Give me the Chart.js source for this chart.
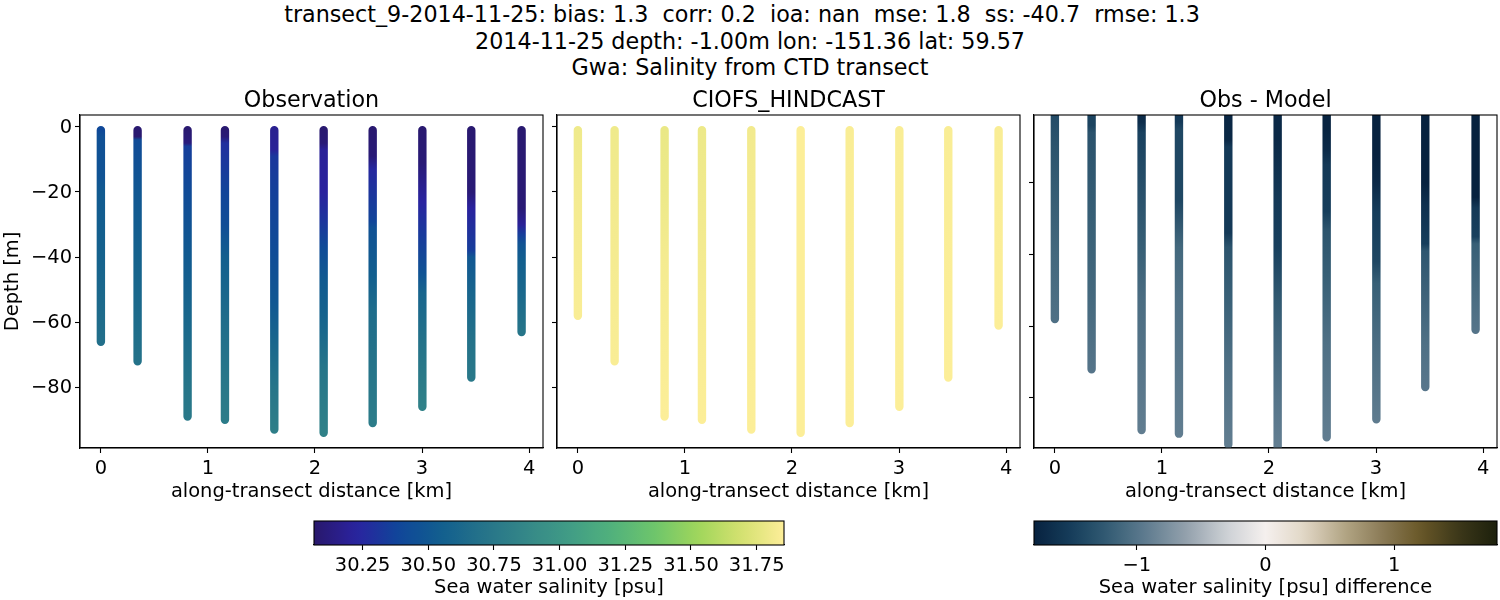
<!DOCTYPE html>
<html>
<head>
<meta charset="utf-8">
<title>transect_9-2014-11-25</title>
<script src="https://cdn.jsdelivr.net/npm/chart.js@4"></script>
<style>
  html, body { margin: 0; padding: 0; background: #fff; overflow: hidden; }
  body { width: 1500px; height: 600px; position: relative; font-family: "DejaVu Sans", sans-serif; }
  canvas { position: absolute; }
  .suptitle { position: absolute; width: 1500px; left: 0; height: 26px; line-height: 26px; text-align: center;
              font-size: 22.24px; color: #000; white-space: pre; }
</style>
</head>
<body>
<div class="suptitle" style="top:1px;padding-right:16px;width:1484px">transect_9-2014-11-25: bias: 1.3  corr: 0.2  ioa: nan  mse: 1.8  ss: -40.7  rmse: 1.3</div>
<div class="suptitle" style="top:28px">2014-11-25 depth: -1.00m lon: -151.36 lat: 59.57</div>
<div class="suptitle" style="top:54px">Gwa: Salinity from CTD transect</div>

<canvas id="obs" width="550" height="423" style="left:0;top:87px"></canvas>
<canvas id="model" width="477" height="423" style="left:550px;top:87px"></canvas>
<canvas id="diff" width="473" height="423" style="left:1027px;top:87px"></canvas>
<canvas id="cbarSalinity" width="520" height="90" style="left:290px;top:510px"></canvas>
<canvas id="cbarDiff" width="490" height="90" style="left:1010px;top:510px"></canvas>

<script>
// values: distance of each cast, then depth / value pairs per cast
const stationKm = [0, 0.343, 0.81, 1.159, 1.62, 2.081, 2.539, 3.003, 3.46, 3.93];
const xTicks = [0, 1, 2, 3, 4];
const depthTicks = [0, -20, -40, -60, -80];
const salinityTicks = [30.25, 30.5, 30.75, 31, 31.25, 31.5, 31.75];
const diffTicks = [-1, 0, 1];

const obsDepths = [
  [-1, -3, -15, -20, -40, -66],
  [-1, -3, -4, -20, -40, -60, -72],
  [-1, -5, -6, -20, -40, -60, -80, -89],
  [-1, -3, -5, -20, -30, -40, -60, -80, -90],
  [-1, -7, -9, -20, -37, -54, -65, -80, -93],
  [-1, -5, -7, -20, -28, -37, -47, -57, -63, -74, -94],
  [-1, -9, -13, -29, -31, -46, -56, -70, -91],
  [-1, -11, -23, -33, -45, -51, -66, -86],
  [-1, -20, -25, -38, -40, -51, -66, -77],
  [-1, -25, -30, -33, -36, -41, -51, -63]
];
const obsSalinity = [
  [30.40, 30.45, 30.47, 30.52, 30.58, 30.68],
  [30.08, 30.08, 30.42, 30.50, 30.58, 30.65, 30.70],
  [30.08, 30.12, 30.35, 30.42, 30.52, 30.62, 30.72, 30.76],
  [30.08, 30.10, 30.28, 30.38, 30.43, 30.55, 30.66, 30.75, 30.78],
  [30.18, 30.20, 30.32, 30.36, 30.42, 30.50, 30.60, 30.72, 30.80],
  [30.08, 30.10, 30.20, 30.22, 30.30, 30.42, 30.52, 30.58, 30.62, 30.72, 30.82],
  [30.08, 30.10, 30.25, 30.38, 30.46, 30.55, 30.65, 30.70, 30.78],
  [30.08, 30.10, 30.23, 30.33, 30.47, 30.60, 30.70, 30.82],
  [30.08, 30.10, 30.22, 30.35, 30.50, 30.60, 30.70, 30.75],
  [30.08, 30.10, 30.20, 30.35, 30.48, 30.55, 30.62, 30.72]
];

const modelDepths = [
  [-1, -20, -58],
  [-1, -20, -72],
  [-1, -20, -40, -89],
  [-1, -30, -90],
  [-1, -40, -93],
  [-1, -94],
  [-1, -91],
  [-1, -86],
  [-1, -77],
  [-1, -61]
];
const modelSalinity = [
  [31.80, 31.82, 31.84],
  [31.80, 31.81, 31.84],
  [31.78, 31.79, 31.82, 31.85],
  [31.79, 31.81, 31.85],
  [31.81, 31.83, 31.85],
  [31.85, 31.85],
  [31.84, 31.85],
  [31.84, 31.85],
  [31.84, 31.85],
  [31.84, 31.85]
];

const diffDepths = [
  [-1, -3, -10, -40, -58],
  [-1, -4, -6, -30, -50, -72],
  [-1, -3, -6, -38, -53, -89],
  [-1, -3, -5, -25, -38, -53, -90],
  [-1, -8, -10, -34, -38, -53, -71, -93],
  [-1, -8, -25, -38, -53, -62, -80, -94],
  [-1, -5, -11, -15, -28, -33, -46, -65, -91],
  [-1, -12, -20, -28, -42, -48, -65, -86],
  [-1, -20, -26, -37, -39, -65, -77],
  [-1, -24, -27, -35, -37, -51, -61]
];
const diffValues = [
  [-1.38, -1.36, -1.30, -1.12, -1.04],
  [-1.45, -1.45, -1.32, -1.20, -1.12, -1.00],
  [-1.70, -1.68, -1.47, -1.20, -1.07, -0.92],
  [-1.55, -1.54, -1.42, -1.42, -1.12, -1.03, -0.92],
  [-1.75, -1.74, -1.55, -1.55, -1.30, -1.18, -1.04, -0.92],
  [-1.72, -1.72, -1.55, -1.48, -1.25, -1.15, -1.00, -0.90],
  [-1.78, -1.78, -1.70, -1.55, -1.50, -1.30, -1.20, -1.04, -0.92],
  [-1.80, -1.80, -1.72, -1.52, -1.42, -1.20, -1.07, -0.94],
  [-1.80, -1.80, -1.65, -1.50, -1.28, -1.04, -0.98],
  [-1.80, -1.80, -1.55, -1.48, -1.20, -1.08, -1.00]
];

// colormaps
const haline = [[41,24,107],[42,35,160],[15,71,153],[18,95,142],[38,116,137],[53,136,136],
                [65,157,133],[81,178,124],[111,198,107],[160,214,91],[212,225,112],[253,238,153]];
const diffMap = [[7,34,63],[22,62,92],[55,95,118],[100,127,146],[150,163,174],[205,209,213],[245,240,238],
                 [225,215,198],[180,167,135],[140,124,88],[105,88,40],[60,55,25],[28,32,12]];
const salinityRange = [30.065, 31.854];
const diffRange = [-1.8, 1.8];

function cmap(stops, range, v) {
  let t = (v - range[0]) / (range[1] - range[0]);
  t = Math.max(0, Math.min(1, t)) * (stops.length - 1);
  const i = Math.min(Math.floor(t), stops.length - 2);
  const f = t - i;
  const c = stops[i].map((a, k) => Math.round(a + (stops[i + 1][k] - a) * f));
  return `rgb(${c[0]},${c[1]},${c[2]})`;
}

const FONT = "'DejaVu Sans', sans-serif";
const LABEL = 19.44;
Chart.defaults.font.family = FONT;
Chart.defaults.color = "#000";
Chart.defaults.animation = false;
Chart.defaults.responsive = false;
Chart.defaults.devicePixelRatio = 1;

const frame = {
  id: "frame",
  afterDatasetsDraw(chart) {
    const a = chart.chartArea, c = chart.ctx;
    c.save();
    c.strokeStyle = "#000";
    c.lineWidth = 1.1;
    c.strokeRect(a.left, a.top, a.right - a.left, a.bottom - a.top);
    c.restore();
  }
};

function minus(v) {
  return String(v).replace("-", "\u2212");
}

function castGradient(chart, depths, values, stops, range) {
  const y = chart.scales.y;
  const top = y.getPixelForValue(depths[0]);
  const bottom = y.getPixelForValue(depths[depths.length - 1]);
  const g = chart.ctx.createLinearGradient(0, top, 0, bottom);
  depths.forEach((d, i) => {
    g.addColorStop((y.getPixelForValue(d) - top) / (bottom - top), cmap(stops, range, values[i]));
  });
  return g;
}

function panel(id, title, depths, values, stops, range, yRange, opts) {
  const datasets = stationKm.map((km, s) => ({
    data: depths[s].map(d => ({ x: km, y: d })),
    showLine: true,
    pointRadius: 0,
    borderWidth: 8.4,
    borderCapStyle: "round",
    clip: 0,
    borderColor: ctx => ctx.chart.chartArea ? castGradient(ctx.chart, depths[s], values[s], stops, range) : "#888"
  }));
  const yAxisWidth = opts.yWidth;
  return new Chart(document.getElementById(id), {
    type: "scatter",
    data: { datasets },
    plugins: [frame],
    options: {
      layout: { padding: { top: 0, left: 0, right: opts.right, bottom: 0 } },
      plugins: {
        legend: { display: false },
        tooltip: { enabled: false },
        title: { display: true, fullSize: false, text: title, color: "#000", padding: 0,
                 font: { size: 22.24, weight: "normal", lineHeight: "28px" } }
      },
      scales: {
        x: {
          type: "linear", min: -0.195, max: 4.13,
          afterBuildTicks: s => { s.ticks = xTicks.map(v => ({ value: v })); },
          afterFit: s => { s.height = 62; },
          ticks: { font: { size: LABEL }, padding: 4, maxRotation: 0, autoSkip: false, callback: v => String(v) },
          grid: { drawOnChartArea: false, tickLength: 5, tickColor: "#000", tickWidth: 1.1 },
          border: { color: "#000", width: 1.1 },
          title: { display: true, text: "along-transect distance [km]", font: { size: LABEL }, padding: { top: 0, bottom: 6 } }
        },
        y: {
          type: "linear", min: yRange[0], max: yRange[1],
          afterBuildTicks: s => { s.ticks = depthTicks.filter(v => v >= yRange[0] && v <= yRange[1]).map(v => ({ value: v })); },
          afterFit: s => { s.width = yAxisWidth; },
          ticks: { font: { size: LABEL }, padding: 3, labelOffset: 1, autoSkip: false, callback: v => opts.yLabels ? minus(v) : "" },
          grid: { drawOnChartArea: false, tickLength: 5, tickColor: "#000", tickWidth: 1.1 },
          border: { color: "#000", width: 1.1 },
          title: { display: !!opts.yTitle, text: opts.yTitle || "", font: { size: LABEL }, padding: { top: 1, bottom: 0 } }
        }
      }
    }
  });
}

function colorbar(id, label, ticks, stops, range, left, right, fmt) {
  return new Chart(document.getElementById(id), {
    type: "bar",
    data: {
      labels: [label],
      datasets: [{
        data: [range],
        categoryPercentage: 1,
        barPercentage: 1,
        backgroundColor: ctx => {
          const x = ctx.chart.scales.x;
          if (!ctx.chart.chartArea) return "#888";
          const g = ctx.chart.ctx.createLinearGradient(x.left, 0, x.right, 0);
          for (let i = 0; i <= 40; i++) {
            g.addColorStop(i / 40, cmap(stops, range, range[0] + (range[1] - range[0]) * i / 40));
          }
          return g;
        }
      }]
    },
    plugins: [frame],
    options: {
      indexAxis: "y",
      layout: { padding: { top: 11, left, right, bottom: 0 } },
      plugins: { legend: { display: false }, tooltip: { enabled: false } },
      scales: {
        y: { display: false },
        x: {
          type: "linear", min: range[0], max: range[1],
          afterBuildTicks: s => { s.ticks = ticks.map(v => ({ value: v })); },
          afterFit: s => { s.height = 55; },
          ticks: { font: { size: LABEL }, padding: 4, maxRotation: 0, autoSkip: false, callback: fmt },
          grid: { drawOnChartArea: false, tickLength: 5, tickColor: "#000", tickWidth: 1.1 },
          border: { color: "#000", width: 1.1 },
          title: { display: true, text: label, font: { size: LABEL }, padding: { top: 0, bottom: 0 } }
        }
      }
    }
  });
}

const sharedY = [-98.65, 3.65];
panel("obs", "Observation", obsDepths, obsSalinity, haline, salinityRange, sharedY,
      { yWidth: 80, right: 7, yLabels: true, yTitle: "Depth [m]" });
panel("model", "CIOFS_HINDCAST", modelDepths, modelSalinity, haline, salinityRange, sharedY,
      { yWidth: 7, right: 7, yLabels: false });
panel("diff", "Obs - Model", diffDepths, diffValues, diffMap, diffRange, [-94, -1.05],
      { yWidth: 7, right: 3, yLabels: false });

colorbar("cbarSalinity", "Sea water salinity [psu]", salinityTicks, haline, salinityRange, 24, 26, v => v.toFixed(2));
colorbar("cbarDiff", "Sea water salinity [psu] difference", diffTicks, diffMap, diffRange, 24, 3, v => minus(v));
</script>
</body>
</html>
